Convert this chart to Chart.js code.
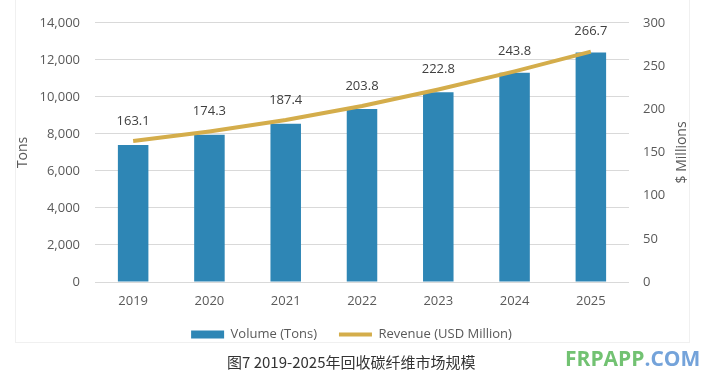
<!DOCTYPE html>
<html>
<head>
<meta charset="utf-8">
<script src="https://cdn.jsdelivr.net/npm/chart.js@4"></script>
<style>
  html, body { margin: 0; padding: 0; background: #ffffff; }
  #wrap { position: relative; width: 723px; height: 383px; overflow: hidden; }
  #frame { position: absolute; left: 15px; top: -2px; width: 675px; height: 345px; border: 1px solid #f0f0f0; box-sizing: border-box; }
  #c { position: absolute; left: 0; top: 0; }
  #caption { position: absolute; left: 227px; top: 351px; font-family: "Noto Sans CJK SC", "Open Sans", sans-serif; font-size: 15px; color: #333333; white-space: nowrap; line-height: 22px; }
  #brand { position: absolute; left: 565px; top: 345px; font-family: "Open Sans", sans-serif; font-weight: 700; font-size: 21px; line-height: 26px; white-space: nowrap; }
  #brand .g { color: #72c272; }
  #brand .b { color: #74a3da; }
</style>
</head>
<body>
<div id="wrap">
  <div id="frame"></div>
  <canvas id="c" width="723" height="383"></canvas>
  <div id="caption">图7 2019-2025年回收碳纤维市场规模</div>
  <div id="brand"><span class="g">FRPAPP</span><span class="b">.COM</span></div>
</div>
<script>
const years = ['2019', '2020', '2021', '2022', '2023', '2024', '2025'];
const volumeTons = [7400, 7950, 8550, 9350, 10250, 11300, 12400];
const revenueUSDMillion = [163.1, 174.3, 187.4, 203.8, 222.8, 243.8, 266.7];
const leftTicks = [0, 2000, 4000, 6000, 8000, 10000, 12000, 14000];
const rightTicks = [0, 50, 100, 150, 200, 250, 300];

const BAR_COLOR = '#2e86b5';
const LINE_COLOR = '#d4ad4b';
const TICK_COLOR = '#595959';
const FONT = '"Open Sans", sans-serif';

const extras = {
  id: 'extras',
  afterDatasetsDraw(chart) {
    const ctx = chart.ctx;
    const meta = chart.getDatasetMeta(1);
    ctx.save();
    ctx.font = '13px ' + FONT;
    ctx.fillStyle = '#404040';
    ctx.textAlign = 'center';
    ctx.textBaseline = 'middle';
    meta.data.forEach((pt, i) => {
      ctx.fillText(revenueUSDMillion[i].toFixed(1), pt.x, pt.y - 20);
    });
    ctx.restore();
  },
  afterDraw(chart) {
    const ctx = chart.ctx;
    const a = chart.chartArea;
    const cy = (a.top + a.bottom) / 2;
    ctx.save();
    ctx.font = '14px ' + FONT;
    ctx.fillStyle = TICK_COLOR;
    ctx.textAlign = 'center';
    ctx.textBaseline = 'middle';
    ctx.translate(682, cy);
    ctx.rotate(-Math.PI / 2);
    ctx.fillText('$ Millions', 0, 0);
    ctx.restore();
    ctx.save();
    ctx.font = '14px ' + FONT;
    ctx.fillStyle = TICK_COLOR;
    ctx.textAlign = 'center';
    ctx.textBaseline = 'middle';
    ctx.translate(23, cy);
    ctx.rotate(-Math.PI / 2);
    ctx.fillText('Tons', 0, 0);
    ctx.restore();
  }
};

new Chart(document.getElementById('c'), {
  data: {
    labels: years,
    datasets: [
      {
        type: 'bar',
        label: 'Volume (Tons)',
        data: volumeTons,
        backgroundColor: BAR_COLOR,
        borderWidth: 0,
        yAxisID: 'y',
        order: 2,
        categoryPercentage: 1,
        barPercentage: 0.4
      },
      {
        type: 'line',
        label: 'Revenue (USD Million)',
        data: revenueUSDMillion,
        borderColor: LINE_COLOR,
        backgroundColor: LINE_COLOR,
        borderWidth: 4,
        pointRadius: 0,
        tension: 0,
        yAxisID: 'y1',
        order: 1
      }
    ]
  },
  options: {
    responsive: false,
    animation: false,
    layout: { padding: { top: 16, left: 0, right: 20, bottom: 32 } },
    scales: {
      x: {
        grid: { display: false, drawTicks: false },
        border: { display: false },
        ticks: { color: TICK_COLOR, font: { family: FONT, size: 13 }, padding: 11 },
        afterFit(s) { s.height = 24; }
      },
      y: {
        position: 'left',
        min: 0, max: 14000,
        afterBuildTicks(s) { s.ticks = leftTicks.map(v => ({ value: v })); },
        grid: { color: '#d9d9d9', lineWidth: 1, drawTicks: false },
        border: { display: false },
        ticks: {
          color: TICK_COLOR, font: { family: FONT, size: 13 }, padding: 15,
          callback: v => v.toLocaleString('en-US')
        },
        afterFit(s) { s.width = 95; }
      },
      y1: {
        position: 'right',
        min: 0, max: 300,
        afterBuildTicks(s) { s.ticks = rightTicks.map(v => ({ value: v })); },
        grid: { drawOnChartArea: false, drawTicks: false },
        border: { display: false },
        ticks: { color: TICK_COLOR, font: { family: FONT, size: 13 }, padding: 14 },
        afterFit(s) { s.width = 74; }
      }
    },
    plugins: {
      legend: {
        position: 'bottom',
        labels: {
          usePointStyle: true,
          pointStyleWidth: 33,
          boxHeight: 8,
          color: TICK_COLOR,
          font: { family: FONT, size: 13 },
          padding: 22,
          generateLabels(chart) {
            return chart.data.datasets.map((ds, i) => ({
              text: ds.label,
              fillStyle: ds.type === 'bar' ? BAR_COLOR : LINE_COLOR,
              strokeStyle: ds.type === 'bar' ? BAR_COLOR : LINE_COLOR,
              lineWidth: ds.type === 'bar' ? 0 : 4,
              pointStyle: ds.type === 'bar' ? 'rect' : 'line',
              fontColor: TICK_COLOR,
              hidden: false,
              datasetIndex: i
            }));
          }
        }
      },
      tooltip: { enabled: false }
    }
  },
  plugins: [extras]
});
</script>
</body>
</html>
